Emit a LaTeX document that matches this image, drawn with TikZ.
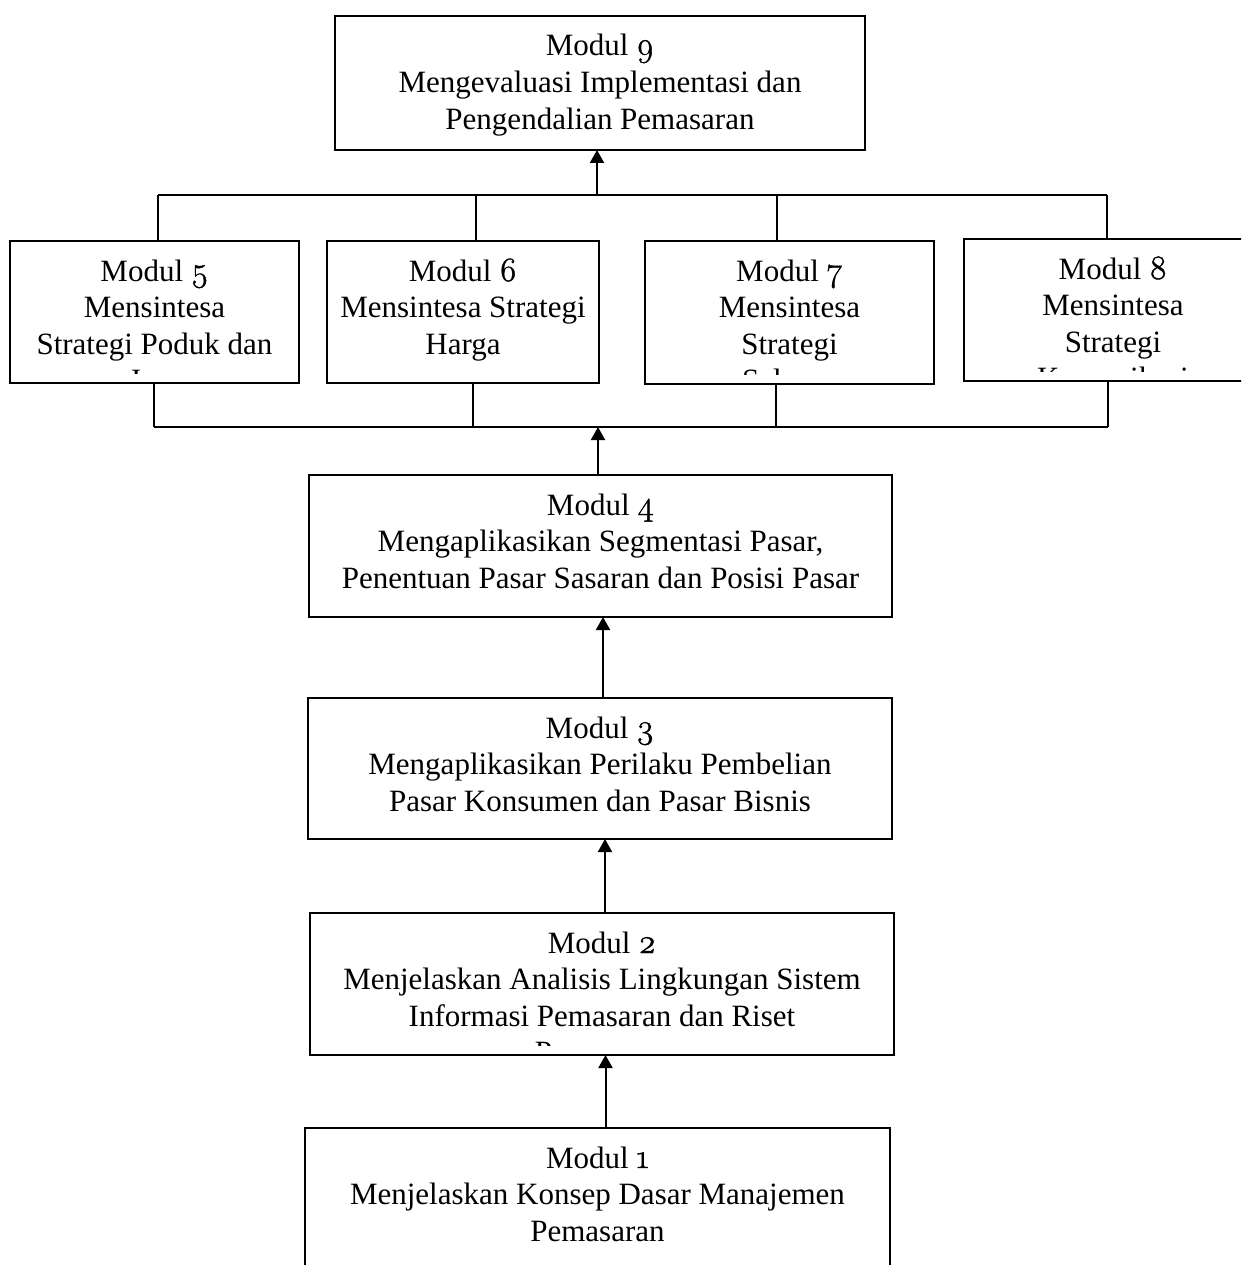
\documentclass[tikz,border=0pt]{standalone}
\usepackage{fontspec}
\setmainfont{Liberation Serif}
\newfontfamily\osf[Numbers=OldStyle,Scale=1.1,FakeBold=1.2]{Latin Modern Roman}
\usetikzlibrary{arrows.meta}
\newcommand{\dg}[1]{{\osf #1}}
% name, x1, y1, x2, y2, number of lines, text
\newcommand{\modbox}[7]{%
  \node[box, minimum width={(#4-#2)*1pt}, minimum height={(#5-#3)*1pt}] (#1) at (#2,#3) {};
  \begin{scope}
    \clip (#2,#3) rectangle (#4,{#5-10});
    \node[txt] (#1t) at ({(#2+#4)/2},{#3+40+(#6-1)*36.6}) {#7};
  \end{scope}}
\begin{document}
\begin{tikzpicture}[x=1pt,y=-1pt,
  box/.style={draw, line width=2pt, inner sep=0pt, outer sep=0pt, anchor=north west},
  txt/.style={align=center, inner sep=0pt, outer sep=0pt, anchor=base, font=\fontsize{31}{36.6}\selectfont},
  conn/.style={line width=2pt},
  arr/.style={conn, -{Triangle[width=14pt,length=13pt]}}]
\clip (0,0) rectangle (1241,1265);
\fill[white] (0,0) rectangle (1241,1265);
\modbox{m9}{335}{16}{865}{150}{3}{Modul \dg{9}\\Mengevaluasi Implementasi dan\\Pengendalian Pemasaran}
\modbox{m5}{10}{241}{299}{383}{4}{Modul \dg{5}\\Mensintesa\\Strategi Poduk dan\\Jasa}
\modbox{m6}{327}{241}{599}{383}{3}{Modul \dg{6}\\Mensintesa Strategi\\Harga}
\modbox{m7}{645}{241}{934}{384}{4}{Modul \dg{7}\\Mensintesa\\Strategi\\Saluran}
\modbox{m8}{964}{239}{1262}{381}{4}{Modul \dg{8}\\Mensintesa\\Strategi\\Komunikasi}
\modbox{m4}{309}{475}{892}{617}{3}{Modul \dg{4}\\Mengaplikasikan Segmentasi Pasar,\\Penentuan Pasar Sasaran dan Posisi Pasar}
\modbox{m3}{308}{698}{892}{839}{3}{Modul \dg{3}\\Mengaplikasikan Perilaku Pembelian\\Pasar Konsumen dan Pasar Bisnis}
\modbox{m2}{310}{913}{894}{1055}{4}{Modul \dg{2}\\Menjelaskan Analisis Lingkungan Sistem\\Informasi Pemasaran dan Riset\\Pemasaran}
\modbox{m1}{305}{1128}{890}{1300}{3}{Modul \dg{1}\\Menjelaskan Konsep Dasar Manajemen\\Pemasaran}
% top bar
\coordinate (t5) at (158,195);
\coordinate (t6) at (476,195);
\coordinate (t7) at (777,195);
\coordinate (t8) at (1107,195);
\coordinate (tc) at (597,195);
\draw[conn] (t5) -- (t8);
\draw[conn] (t5) -- (t5 |- m5.north);
\draw[conn] (t6) -- (t6 |- m6.north);
\draw[conn] (t7) -- (t7 |- m7.north);
\draw[conn] (t8) -- (t8 |- m8.north);
\draw[arr] (tc) -- (tc |- m9.south);
% bottom bar
\coordinate (b5) at (154,427);
\coordinate (b6) at (473,427);
\coordinate (b7) at (776,427);
\coordinate (b8) at (1108,427);
\coordinate (bc) at (598,427);
\draw[conn] (b5) -- (b8);
\draw[conn] (b5) -- (b5 |- m5.south);
\draw[conn] (b6) -- (b6 |- m6.south);
\draw[conn] (b7) -- (b7 |- m7.south);
\draw[conn] (b8) -- (b8 |- m8.south);
\draw[arr] (bc |- m4.north) -- (bc);
% vertical chain
\draw[arr] ([xshift=3pt]m3.north) -- ([xshift=3pt]m3.north |- m4.south);
\draw[arr] ([xshift=3pt]m2.north) -- ([xshift=3pt]m2.north |- m3.south);
\draw[arr] ([xshift=8pt]m1.north) -- ([xshift=8pt]m1.north |- m2.south);
\end{tikzpicture}
\end{document}
